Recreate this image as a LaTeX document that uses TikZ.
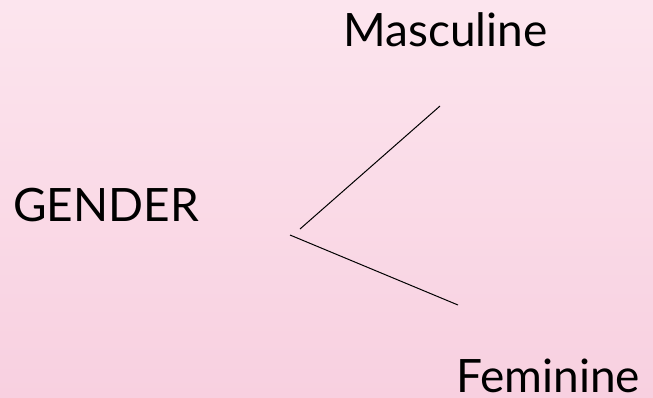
\documentclass[tikz,border=0pt]{standalone}
\usepackage{fontspec}
\setmainfont{Lato}
\definecolor{bgtop}{RGB}{252,229,238}
\definecolor{bgbot}{RGB}{248,208,224}
\begin{document}
\begin{tikzpicture}[x=1pt,y=-1pt,
  lbl/.style={anchor=base west,inner sep=0pt,font=\fontsize{46}{52}\selectfont},
  conn/.style={draw=black,line width=1pt}]
\shade[top color=bgtop,bottom color=bgbot] (0,0) rectangle (653,397);
\useasboundingbox (0,0) rectangle (653,397);
\node[lbl] (gender) at (13,221) {GENDER};
\node[lbl] (masc) at (343,46) {Masculine};
\node[lbl] (fem) at (456,392) {Feminine};
\coordinate (a1) at (300,229);
\coordinate (a2) at (440,106);
\coordinate (b1) at (290,235);
\coordinate (b2) at (458,305);
\draw[conn] (a1) -- (a2);
\draw[conn] (b1) -- (b2);
\end{tikzpicture}
\end{document}
